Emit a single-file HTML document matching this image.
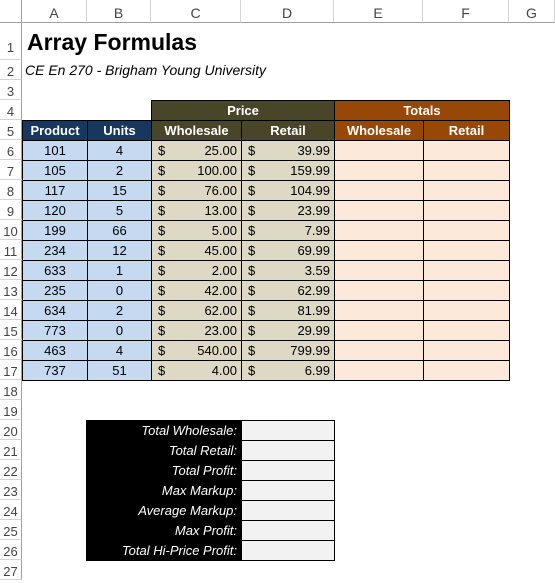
<!DOCTYPE html>
<html><head><meta charset="utf-8">
<style>
*{margin:0;padding:0;box-sizing:border-box}
body{width:555px;height:571px;overflow:hidden;background:#fff;font-family:"Liberation Sans",sans-serif;position:relative}
.abs{position:absolute}
.colh{position:absolute;top:0;height:23px;border-right:1px solid #d4d4d4;border-bottom:1px solid #a0a0a0;background:#fff;color:#444;font-size:14px;text-align:center;line-height:26px}
.rowh{position:absolute;left:0;width:22px;border-bottom:1px solid #d4d4d4;border-right:1px solid #a0a0a0;color:#444;font-size:13px;text-align:center}
.c{position:absolute;border:1px solid #000;font-size:13px;line-height:20px;overflow:hidden;white-space:nowrap}
.h{color:#fff;font-weight:bold;text-align:center}
</style></head><body>
<div id="sheet"></div>
<div class="abs" style="left:27px;top:29px;font-size:23px;font-weight:bold">Array Formulas</div>
<div class="abs" style="left:25px;top:62px;font-size:14px;font-style:italic">CE En 270 - Brigham Young University</div>
<script>
const colLetters=["A","B","C","D","E","F","G"];
const products=[101,105,117,120,199,234,633,235,634,773,463,737];
const units=[4,2,15,5,66,12,1,0,2,0,4,51];
const wholesale=["25.00","100.00","76.00","13.00","5.00","45.00","2.00","42.00","62.00","23.00","540.00","4.00"];
const retail=["39.99","159.99","104.99","23.99","7.99","69.99","3.59","62.99","81.99","29.99","799.99","6.99"];
const summaryLabels=["Total Wholesale:","Total Retail:","Total Profit:","Max Markup:","Average Markup:","Max Profit:","Total Hi-Price Profit:"];
const X=[22,87,151,241,334,423,509,555];
const S=document.getElementById('sheet');
function add(cls,l,t,w,h,html,bg,extra){const d=document.createElement('div');d.className=cls;d.style.left=l+'px';d.style.top=t+'px';d.style.width=w+'px';d.style.height=h+'px';if(bg)d.style.background=bg;if(extra)d.style.cssText+=extra;d.innerHTML=html;S.appendChild(d);return d;}
const corner=add('abs',0,0,22,23,'',null,'border-right:1px solid #a0a0a0;border-bottom:1px solid #a0a0a0');


for(let i=0;i<7;i++){const d=add('colh',X[i],0,X[i+1]-X[i],23,colLetters[i]);

}
function rowTop(r){if(r===1)return 23;if(r===2)return 60;return 80+(r-3)*20;}
for(let r=1;r<=27;r++){const t=rowTop(r),h=(r===1?37:20);const d=add('rowh',0,t,22,h,r,null,'line-height:'+(r===1?50:23)+'px');

}
let d;
d=add('c h',151,100,184,21,'Price','#494529');
d=add('c h',334,100,176,21,'Totals','#974706');
const sub=[["Product","#17375e"],["Units","#17375e"],["Wholesale","#494529"],["Retail","#494529"],["Wholesale","#974706"],["Retail","#974706"]];
for(let i=0;i<6;i++){d=add('c h',X[i],120,X[i+1]-X[i]+1,21,sub[i][0],sub[i][1]);

}
for(let k=0;k<products.length;k++){const t=140+k*20;
d=add('c',X[0],t,X[1]-X[0]+1,21,products[k],'#c5d9f1','text-align:center');
d=add('c',X[1],t,X[2]-X[1]+1,21,units[k],'#c5d9f1','text-align:center');
d=add('c',X[2],t,X[3]-X[2]+1,21,'<span style="position:absolute;left:6px">$</span><span style="position:absolute;right:4px">'+wholesale[k]+'</span>','#ddd9c4');
d=add('c',X[3],t,X[4]-X[3]+1,21,'<span style="position:absolute;left:6px">$</span><span style="position:absolute;right:4px">'+retail[k]+'</span>','#ddd9c4');
d=add('c',X[4],t,X[5]-X[4]+1,21,'','#fde9d9');
d=add('c',X[5],t,X[6]-X[5]+1,21,'','#fde9d9');}
for(let k=0;k<summaryLabels.length;k++){const t=420+k*20;
d=add('c',86,t,156,21,summaryLabels[k],'#000','color:#fff;font-style:italic;text-align:right;padding-right:4px;border-color:#000');
d=add('c',241,t,94,21,'','#f2f2f2');}
</script>
</body></html>
